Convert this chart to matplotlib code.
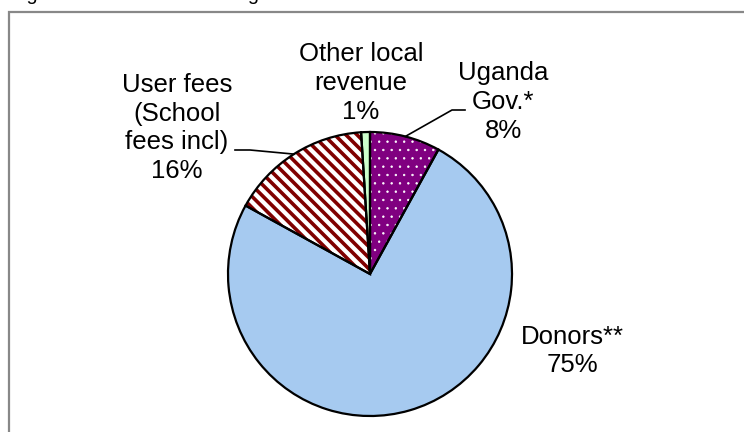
import matplotlib
matplotlib.use("Agg")
import matplotlib.pyplot as plt
import numpy as np
from matplotlib.patches import Wedge, Rectangle

# Funding shares (percent), clockwise from 12 o'clock
sources = ["Uganda\nGov.*", "Donors**", "User fees\n(School\nfees incl)", "Other local\nrevenue"]
shares = [8, 75, 16, 1]
colors = ["#800080", "#A6CAF0", "#FFFFFF", "#CCFFCC"]

W, H = 744, 432
plt.rcParams["font.family"] = ["Liberation Sans", "DejaVu Sans"]
plt.rcParams["hatch.linewidth"] = 2.6

fig = plt.figure(figsize=(W / 100, H / 100), dpi=100)
ax = fig.add_axes([0, 0, 1, 1])

cx, cy, R = 370, H - 274, 142
wedges, _ = ax.pie(shares, colors=colors, startangle=90, counterclock=False,
                   center=(cx, cy), radius=R, frame=True,
                   wedgeprops=dict(linewidth=0))

# textures: white dots on the government slice, dark red stripes on user fees
wedges[0].set_hatch("..")
wedges[0].set_edgecolor("white")
wedges[2].set_hatch("\\\\\\")
wedges[2].set_edgecolor("#800000")
if hasattr(wedges[0], "set_hatch_linewidth"):
    wedges[0].set_hatch_linewidth(0.5)
    wedges[2].set_hatch_linewidth(2.6)

# black outlines over every slice
for w in wedges:
    ax.add_patch(Wedge(w.center, w.r, w.theta1, w.theta2, fill=False,
                       edgecolor="black", linewidth=1.6, zorder=3))

ax.set_xlim(0, W)
ax.set_ylim(0, H)
ax.set_aspect("equal")
ax.axis("off")

# chart border (runs past the right and bottom edges)
ax.add_patch(Rectangle((9, -20), W, H - 12 + 20, fill=False,
                       edgecolor="#888888", linewidth=1.6, clip_on=False, zorder=0))

fs = 18.5
label_pos = [(503, 102), (572, 351), (177, 128), (361, 83)]
for name, val, (lx, ly) in zip(sources, shares, label_pos):
    ax.text(lx, H - ly, f"{name}\n{val}%", ha="center", va="center",
            fontsize=fs, linespacing=1.24, zorder=4)

def mid_point(w):
    a = np.deg2rad((w.theta1 + w.theta2) / 2)
    return w.center[0] + w.r * np.cos(a), w.center[1] + w.r * np.sin(a)

# leader lines
px, py = mid_point(wedges[0])
ax.plot([px, 452, 465], [py, H - 110, H - 110], color="black", lw=1.2, zorder=4)
px, py = mid_point(wedges[2])
ax.plot([px, 250, 235], [py, H - 150, H - 150], color="black", lw=1.2, zorder=4)

# caption above the chart area
ax.text(10, H + 0.5, "Figure 1: Sources of funding", fontsize=14.2,
        ha="left", va="baseline", clip_on=False)

fig.savefig("out.png", dpi=100)
